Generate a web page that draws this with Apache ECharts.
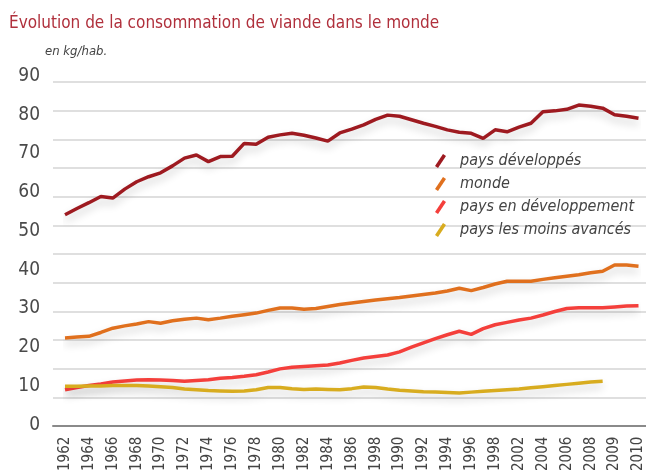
<!DOCTYPE html>
<html>
<head>
<meta charset="utf-8">
<script src="https://cdn.jsdelivr.net/npm/echarts@6/dist/echarts.min.js"></script>
<style>
html, body { margin: 0; padding: 0; background: #fff; }
#chart { width: 646px; height: 474px; }
</style>
</head>
<body>
<div id="chart"></div>
<script>
// annees 1962 -> 2010
var years = [];
for (var y = 1962; y <= 2010; y++) years.push(String(y));

// etiquettes telles qu'imprimees sur l'axe (une tous les deux ans)
var tickLabels = ['1962', '1964', '1966', '1968', '1970', '1972', '1974', '1976', '1978', '1980',
    '1982', '1984', '1986', '1998', '1990', '1992', '1994', '1996', '1998', '2002',
    '2004', '2006', '2008', '2009', '2010'];

var yTicks = [0, 10, 20, 30, 40, 50, 60, 70, 80, 90];

var paysDeveloppes = [54.2, 55.8, 57.3, 58.9, 58.5, 60.8, 62.7, 64.0, 65.0, 66.8,
    68.8, 69.6, 67.9, 69.2, 69.3, 72.6, 72.4, 74.2, 74.8, 75.2,
    74.7, 74.0, 73.2, 75.3, 76.3, 77.4, 78.8, 79.9, 79.6, 78.7,
    77.8, 77.0, 76.1, 75.5, 75.2, 73.9, 76.1, 75.6, 76.8, 77.8,
    80.8, 81.0, 81.4, 82.5, 82.2, 81.7, 80.0, 79.6, 79.1];

var monde = [22.4, 22.6, 22.8, 23.8, 24.9, 25.5, 26.0, 26.6, 26.2, 26.8,
    27.2, 27.5, 27.1, 27.5, 28.0, 28.4, 28.8, 29.5, 30.1, 30.1,
    29.8, 30.0, 30.5, 31.0, 31.4, 31.8, 32.2, 32.5, 32.8, 33.2,
    33.6, 34.0, 34.5, 35.2, 34.6, 35.4, 36.3, 37.0, 37.0, 37.0,
    37.5, 37.9, 38.3, 38.7, 39.2, 39.6, 41.2, 41.2, 40.9];

var paysEnDev = [9.0, 9.6, 10.1, 10.5, 11.0, 11.3, 11.5, 11.6, 11.5, 11.4,
    11.2, 11.4, 11.6, 12.0, 12.2, 12.5, 12.9, 13.6, 14.4, 14.8,
    15.0, 15.2, 15.4, 15.9, 16.6, 17.2, 17.6, 18.0, 18.8, 20.0,
    21.1, 22.2, 23.2, 24.1, 23.3, 24.8, 25.8, 26.4, 27.0, 27.5,
    28.3, 29.2, 30.0, 30.2, 30.2, 30.2, 30.4, 30.6, 30.7];

var paysMoinsAvances = [9.9, 9.9, 10.0, 10.0, 10.1, 10.1, 10.1, 10.0, 9.8, 9.6,
    9.2, 9.0, 8.8, 8.7, 8.6, 8.7, 9.0, 9.6, 9.6, 9.3,
    9.1, 9.2, 9.1, 9.0, 9.3, 9.7, 9.6, 9.2, 8.9, 8.7,
    8.5, 8.4, 8.3, 8.2, 8.4, 8.6, 8.8, 9.0, 9.2, 9.5,
    9.8, 10.1, 10.4, 10.7, 11.0, 11.2, null, null, null];

var fontFam = "'Liberation Sans Narrow', 'DejaVu Sans Condensed', sans-serif";

function serie(name, color, data) {
    return {
        name: name,
        type: 'line',
        xAxisIndex: 0,
        yAxisIndex: 0,
        symbol: 'none',
        smooth: false,
        data: data,
        lineStyle: {
            color: color,
            width: 3.5,
            shadowColor: 'rgba(0,0,0,0.2)',
            shadowBlur: 8,
            shadowOffsetY: 5
        },
        itemStyle: { color: color }
    };
}

var iconPath = 'path://M0,12 L8,0 L11,2 L3,14 Z';

var option = {
    backgroundColor: '#fff',
    animation: false,
    textStyle: { fontFamily: fontFam },
    title: [{
        text: 'Évolution de la consommation de viande dans le monde',
        left: 4,
        top: 10,
        textStyle: { color: '#b0303c', fontSize: 17, fontWeight: 'normal', fontFamily: fontFam }
    }, {
        text: 'en kg/hab.',
        left: 40,
        top: 40,
        textStyle: { color: '#444', fontSize: 13, fontStyle: 'italic', fontWeight: 'normal', fontFamily: fontFam }
    }],
    legend: {
        orient: 'vertical',
        left: 430,
        top: 147,
        itemWidth: 11,
        itemHeight: 14,
        itemGap: 5,
        icon: iconPath,
        textStyle: {
            color: '#444',
            fontSize: 16,
            fontStyle: 'italic',
            lineHeight: 18,
            padding: [0, 0, 0, 9],
            fontFamily: fontFam
        },
        data: ['pays développés', 'monde', 'pays en développement', 'pays les moins avancés']
    },
    grid: [
        { left: 65, right: 5, top: 76, bottom: 49 },
        // lignes de fond decoratives
        { left: 53, right: 0, top: 82, bottom: 48 }
    ],
    xAxis: [{
        type: 'category',
        gridIndex: 0,
        boundaryGap: false,
        data: years,
        axisLine: { show: false },
        axisTick: { show: false },
        splitLine: { show: false },
        axisLabel: {
            interval: 0,
            rotate: 90,
            margin: 12,
            color: '#444',
            fontSize: 15,
            fontFamily: fontFam,
            formatter: function (v, i) {
                return i % 2 === 0 ? tickLabels[i / 2] : '';
            }
        }
    }, {
        type: 'value',
        gridIndex: 1,
        min: 0,
        max: 1,
        axisLine: { show: true, lineStyle: { color: '#8a8a8a', width: 2 } },
        axisTick: { show: false },
        axisLabel: { show: false },
        splitLine: { show: false }
    }],
    yAxis: [{
        type: 'value',
        gridIndex: 0,
        min: 0,
        max: 90,
        interval: 10,
        axisLine: { show: false },
        axisTick: { show: false },
        splitLine: { show: false },
        axisLabel: {
            margin: 25,
            color: '#4a4a4a',
            fontSize: 19,
            fontFamily: fontFam,
            formatter: function (v) {
                return yTicks.indexOf(v) >= 0 ? String(v) : '';
            }
        }
    }, {
        type: 'value',
        gridIndex: 1,
        min: 0,
        max: 12,
        interval: 1,
        axisLine: { show: false },
        axisTick: { show: false },
        axisLabel: { show: false },
        splitLine: { show: true, lineStyle: { color: '#d4d4d4', width: 1.5 } }
    }],
    series: [
        serie('pays développés', '#9e1a20', paysDeveloppes),
        serie('monde', '#e0701e', monde),
        serie('pays en développement', '#f43f3b', paysEnDev),
        serie('pays les moins avancés', '#d8ac1f', paysMoinsAvances)
    ]
};

var myChart = echarts.init(document.getElementById('chart'));
myChart.setOption(option);
</script>
</body>
</html>
